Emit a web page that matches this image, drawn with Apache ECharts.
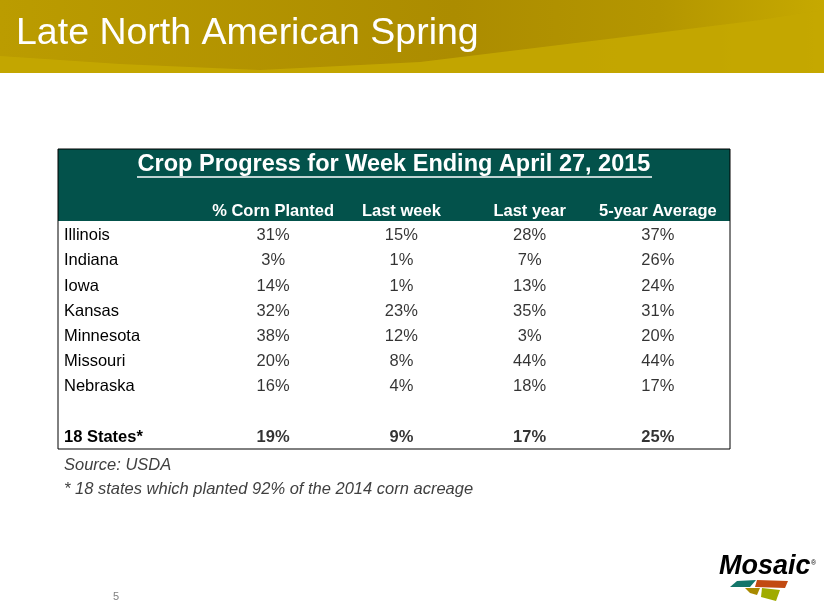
<!DOCTYPE html>
<html>
<head>
<meta charset="utf-8">
<script src="https://cdn.jsdelivr.net/npm/echarts@6/dist/echarts.min.js"></script>
<style>
  html, body { margin: 0; padding: 0; background: #fff; }
  #chart { width: 824px; height: 611px; }
</style>
</head>
<body>
<div id="chart"></div>
<script>
// 表格資料
const states = ['Illinois', 'Indiana', 'Iowa', 'Kansas', 'Minnesota', 'Missouri', 'Nebraska', '', '18 States*'];
const columns = ['% Corn Planted', 'Last week', 'Last year', '5-year Average'];
const cornPlanted = [31, 3, 14, 32, 38, 20, 16, null, 19];
const lastWeek = [15, 1, 1, 23, 12, 8, 4, null, 9];
const lastYear = [28, 7, 13, 35, 3, 44, 18, null, 17];
const fiveYearAvg = [37, 26, 24, 31, 20, 44, 17, null, 25];
const totalRow = '18 States*';

const chart = echarts.init(document.getElementById('chart'));
const FONT = 'Liberation Sans, Arial, sans-serif';
const BODY_SIZE = 16.5;

function columnSeries(values, colIdx) {
    const data = [];
    values.forEach((v, i) => {
        if (v == null) return;
        const bold = states[i] === totalRow;
        data.push({
            value: [colIdx, i, v],
            label: { fontWeight: bold ? 'bold' : 'normal' }
        });
    });
    return {
        type: 'scatter',
        symbolSize: 1,
        itemStyle: { color: 'rgba(0,0,0,0)' },
        silent: true,
        label: {
            show: true,
            position: 'inside',
            formatter: p => p.value[2] + '%',
            color: '#000',
            fontSize: BODY_SIZE,
            fontFamily: FONT
        },
        data: data
    };
}

chart.setOption({
    animation: false,
    graphic: [
        // 標題背景
        {
            type: 'rect', shape: { x: 0, y: 0, width: 824, height: 73 },
            style: {
                fill: new echarts.graphic.LinearGradient(0, 0, 1, 0, [
                    { offset: 0, color: '#bb9c00' },
                    { offset: 0.55, color: '#ac8c00' },
                    { offset: 0.8, color: '#b49600' },
                    { offset: 1, color: '#c6a900' }
                ])
            }, z: 0
        },
        {
            type: 'polygon',
            shape: { points: [[0, 56], [120, 64], [260, 70], [420, 62], [600, 40], [760, 20], [824, 10], [824, 73], [0, 73]] },
            style: { fill: '#c4a700', opacity: 0.9 }, z: 1
        },
        {
            type: 'text', left: 16, top: 15,
            style: { text: 'Late North American Spring', fill: '#fff', fontSize: 37.5, fontFamily: FONT }, z: 2
        },
        // 表頭綠色區塊
        {
            type: 'rect', shape: { x: 58, y: 149, width: 672, height: 72 },
            style: { fill: '#03524b' }, z: 1
        },
        {
            type: 'text', x: 394, y: 165,
            style: {
                text: 'Crop Progress for Week Ending April 27, 2015', fill: '#fff',
                fontSize: 23.5, fontWeight: 'bold', fontFamily: FONT,
                align: 'center', verticalAlign: 'middle'
            }, z: 2
        },
        {
            type: 'line', shape: { x1: 137, y1: 177, x2: 652, y2: 177 },
            style: { stroke: '#fff', lineWidth: 1.5 }, z: 2
        },
        // 表格框線
        {
            type: 'polyline',
            shape: { points: [[58, 149], [58, 449], [730, 449], [730, 149], [58, 149]] },
            style: { stroke: '#000', lineWidth: 1, fill: null }, z: 3
        },
        // 註腳
        {
            type: 'text', left: 64, top: 457,
            style: { text: 'Source: USDA', fill: '#404040', fontSize: BODY_SIZE, fontStyle: 'italic', fontFamily: FONT }
        },
        {
            type: 'text', left: 64, top: 481,
            style: { text: '* 18 states which planted 92% of the 2014 corn acreage', fill: '#404040', fontSize: BODY_SIZE, fontStyle: 'italic', fontFamily: FONT }
        },
        {
            type: 'text', left: 113, top: 591,
            style: { text: '5', fill: '#808080', fontSize: 11, fontFamily: FONT }
        },
        // Mosaic logo
        {
            type: 'text', left: 719, top: 553,
            style: { text: 'Mosaic', fill: '#000', fontSize: 27, fontWeight: 'bold', fontStyle: 'italic', fontFamily: FONT }
        },
        {
            type: 'text', left: 811, top: 560,
            style: { text: '®', fill: '#000', fontSize: 7, fontFamily: FONT }
        },
        { type: 'polygon', shape: { points: [[730, 587], [737, 581], [756, 580], [750, 587]] }, style: { fill: '#13766a' } },
        { type: 'polygon', shape: { points: [[757, 580], [788, 581], [785, 588], [755, 587]] }, style: { fill: '#c24a12' } },
        { type: 'polygon', shape: { points: [[745, 588], [760, 588], [757, 595], [750, 593]] }, style: { fill: '#a88a00' } },
        { type: 'polygon', shape: { points: [[762, 588], [780, 590], [776, 601], [761, 597]] }, style: { fill: '#9fab00' } }
    ],
    grid: { left: 209, right: 102, top: 223, bottom: 161 },
    xAxis: {
        type: 'category',
        position: 'top',
        data: columns,
        axisLine: { show: false },
        axisTick: { show: false },
        splitLine: { show: false },
        axisLabel: {
            color: '#fff', fontWeight: 'bold', fontSize: BODY_SIZE, fontFamily: FONT,
            margin: 3, interval: 0
        },
        z: 5
    },
    yAxis: {
        type: 'category',
        inverse: true,
        data: states,
        axisLine: { show: false },
        axisTick: { show: false },
        splitLine: { show: false },
        axisLabel: {
            align: 'left', margin: 145, interval: 0,
            color: '#000', fontSize: BODY_SIZE, fontFamily: FONT,
            formatter: v => v === totalRow ? '{b|' + v + '}' : v,
            rich: { b: { fontWeight: 'bold', fontSize: BODY_SIZE, fontFamily: FONT, color: '#000' } }
        }
    },
    series: [
        columnSeries(cornPlanted, 0),
        columnSeries(lastWeek, 1),
        columnSeries(lastYear, 2),
        columnSeries(fiveYearAvg, 3)
    ]
});
</script>
</body>
</html>
